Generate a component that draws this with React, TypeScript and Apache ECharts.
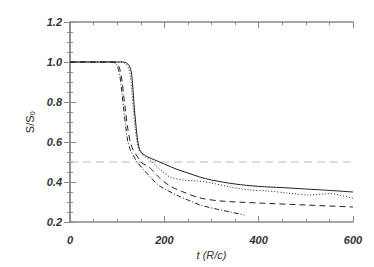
import React, { useEffect, useRef } from "react";
import * as echarts from "echarts";

const solid: [number, number][] = [
  [0, 1], [112, 1], [120, 0.995], [126, 0.98], [130, 0.95], [133, 0.88], [136, 0.78], [140, 0.68],
  [144, 0.6], [148, 0.56], [155, 0.54], [165, 0.525], [180, 0.51], [200, 0.49], [225, 0.465],
  [250, 0.445], [275, 0.425], [300, 0.41], [350, 0.39], [400, 0.378], [450, 0.372], [500, 0.365],
  [550, 0.358], [600, 0.35],
];
const dotted: [number, number][] = [
  [0, 1], [110, 1], [118, 0.99], [124, 0.97], [128, 0.93], [131, 0.86], [134, 0.77], [138, 0.67],
  [142, 0.6], [146, 0.56], [152, 0.54], [160, 0.525], [170, 0.51], [185, 0.475], [200, 0.445],
  [212, 0.425], [240, 0.41], [270, 0.405], [300, 0.395], [340, 0.375], [382, 0.36], [420, 0.355],
  [460, 0.345], [509, 0.335], [551, 0.342], [580, 0.33], [600, 0.318],
];
const dashed: [number, number][] = [
  [0, 1], [92, 1], [100, 0.99], [105, 0.97], [110, 0.91], [114, 0.83], [118, 0.75], [123, 0.66],
  [128, 0.6], [134, 0.56], [142, 0.53], [150, 0.5], [160, 0.485], [170, 0.47], [190, 0.42],
  [212, 0.38], [240, 0.35], [276, 0.32], [320, 0.305], [400, 0.295], [500, 0.285], [600, 0.275],
];
const dashDot: [number, number][] = [
  [0, 1], [88, 1], [95, 0.995], [100, 0.98], [105, 0.94], [110, 0.85], [114, 0.76], [118, 0.68],
  [122, 0.61], [128, 0.56], [135, 0.53], [142, 0.5], [155, 0.465], [170, 0.425], [190, 0.38],
  [205, 0.36], [230, 0.33], [250, 0.31], [276, 0.285], [310, 0.265], [340, 0.25], [370, 0.235],
];
const refLevel = 0.5;
const xRange = [0, 600];
const yRange = [0.2, 1.2];

export default function App() {
  const ref = useRef<HTMLDivElement>(null);
  useEffect(() => {
    if (!ref.current) return;
    const chart = echarts.init(ref.current, null, { renderer: "svg" });
    const axisColor = "#8a8a8a";
    const labelStyle = {
      fontFamily: "Liberation Sans",
      fontStyle: "italic" as const,
      fontWeight: "bold" as const,
      fontSize: 11,
      color: "#333",
    };
    const commonAxis = {
      axisLine: { show: true, lineStyle: { color: axisColor, width: 1.5 } },
      axisTick: { show: true, inside: true, length: 6, lineStyle: { color: axisColor } },
      minorTick: { show: true, splitNumber: 4, length: 3, lineStyle: { color: axisColor } },
      splitLine: { show: false },
    };
    const lineColor = "#222";
    const mk = (name: string, data: [number, number][], type: any) => ({
      name,
      type: "line",
      data,
      symbol: "none",
      smooth: 0.3,
      lineStyle: { color: lineColor, width: 1, type },
      xAxisIndex: 0,
      yAxisIndex: 0,
    });
    chart.setOption({
      animation: false,
      grid: { left: 70, right: 21, top: 22, bottom: 45 },
      xAxis: [
        {
          type: "value",
          min: xRange[0],
          max: xRange[1],
          interval: 200,
          position: "bottom",
          name: "t (R/c)",
          nameLocation: "middle",
          nameGap: 23,
          nameTextStyle: { ...labelStyle, fontWeight: "normal", fontSize: 11 },
          axisLabel: { ...labelStyle, margin: 12 },
          ...commonAxis,
        },
        {
          type: "value",
          min: xRange[0],
          max: xRange[1],
          interval: 200,
          position: "top",
          axisLabel: { show: false },
          ...commonAxis,
        },
      ],
      yAxis: [
        {
          type: "value",
          min: yRange[0],
          max: yRange[1],
          interval: 0.2,
          position: "left",
          name: "S/S₀",
          nameLocation: "middle",
          nameGap: 30,
          nameRotate: 90,
          nameTextStyle: { ...labelStyle, fontWeight: "normal", fontStyle: "normal", fontSize: 11, color: "#222" },
          axisLabel: { ...labelStyle, margin: 8, formatter: (v: number) => v.toFixed(1) },
          ...commonAxis,
        },
        {
          type: "value",
          min: yRange[0],
          max: yRange[1],
          interval: 0.2,
          position: "right",
          axisLabel: { show: false },
          ...commonAxis,
        },
      ],
      series: [
        {
          name: "ref",
          type: "line",
          data: [[xRange[0], refLevel], [xRange[1], refLevel]],
          symbol: "none",
          lineStyle: { color: "#bbbbbb", width: 1, type: [8, 5] },
        },
        mk("solid", solid, "solid"),
        mk("dotted", dotted, [1, 2]),
        mk("dashed", dashed, [6, 4]),
        mk("dashdot", dashDot, [5, 2, 1, 2]),
      ],
    });
    return () => chart.dispose();
  }, []);
  return (
    <div
      ref={ref}
      style={{ position: "fixed", left: 0, top: 0, width: 374, height: 267, background: "#fff" }}
    />
  );
}
